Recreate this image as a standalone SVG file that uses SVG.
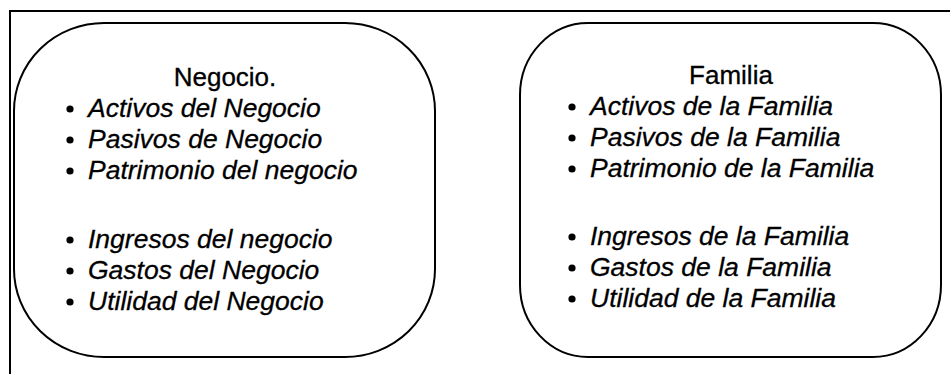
<svg xmlns="http://www.w3.org/2000/svg" width="950" height="374" viewBox="0 0 950 374">
<style>
.box{fill:#fff;stroke:#000;stroke-width:2}
.frame{fill:none;stroke:#000;stroke-width:2}
.h{font-family:"Liberation Sans",Arial,sans-serif;font-size:26px;fill:#000;stroke:#000;stroke-width:0.3;text-anchor:middle}
.i{font-family:"Liberation Sans",Arial,sans-serif;font-size:26.5px;font-style:italic;fill:#000;stroke:#000;stroke-width:0.3}
.b{fill:#000}
</style>
<rect width="950" height="374" fill="#fff"/>
<path class="frame" d="M10 374 V11 H950"/>
<g id="negocio">
<rect class="box" x="14" y="23" width="421" height="334" rx="90" ry="88"/>
<text class="h" x="225" y="86">Negocio.</text>
<circle class="b" cx="70" cy="109" r="3.6"/><text class="i" x="88" y="117">Activos del Negocio</text>
<circle class="b" cx="70" cy="140" r="3.6"/><text class="i" x="88" y="148">Pasivos de Negocio</text>
<circle class="b" cx="70" cy="171" r="3.6"/><text class="i" x="88" y="179">Patrimonio del negocio</text>
<circle class="b" cx="70" cy="240" r="3.6"/><text class="i" x="88" y="248">Ingresos del negocio</text>
<circle class="b" cx="70" cy="271" r="3.6"/><text class="i" x="88" y="279">Gastos del Negocio</text>
<circle class="b" cx="70" cy="302" r="3.6"/><text class="i" x="88" y="310">Utilidad del Negocio</text>
</g>
<g id="familia">
<rect class="box" x="520" y="23" width="421" height="334" rx="68" ry="72"/>
<text class="h" x="731" y="84">Familia</text>
<circle class="b" cx="572" cy="107" r="3.6"/><text class="i" x="590" y="115">Activos de la Familia</text>
<circle class="b" cx="572" cy="138" r="3.6"/><text class="i" x="590" y="146">Pasivos de la Familia</text>
<circle class="b" cx="572" cy="169" r="3.6"/><text class="i" x="590" y="177">Patrimonio de la Familia</text>
<circle class="b" cx="572" cy="237" r="3.6"/><text class="i" x="590" y="245">Ingresos de la Familia</text>
<circle class="b" cx="572" cy="268" r="3.6"/><text class="i" x="590" y="276">Gastos de la Familia</text>
<circle class="b" cx="572" cy="299" r="3.6"/><text class="i" x="590" y="307">Utilidad de la Familia</text>
</g>
<g id="connectors"/>
</svg>
